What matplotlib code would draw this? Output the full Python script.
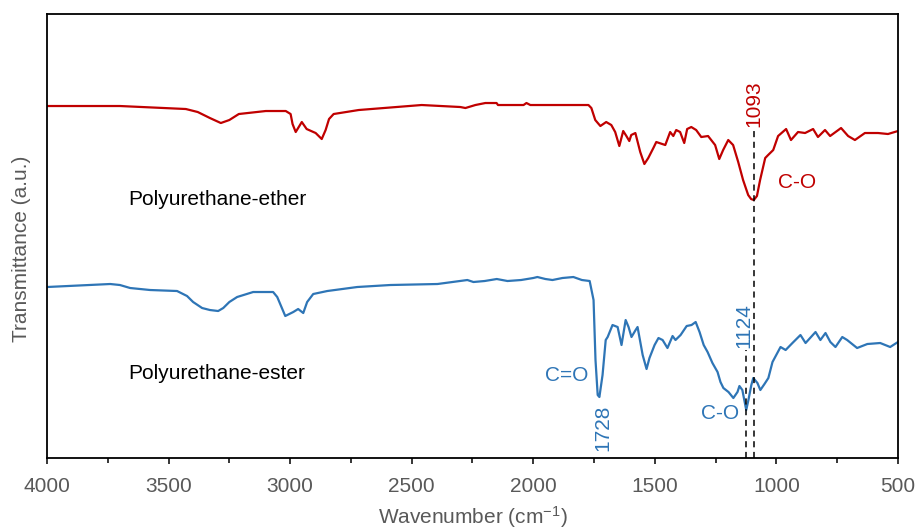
import matplotlib
matplotlib.use('Agg')
import matplotlib.pyplot as plt
from matplotlib.ticker import MultipleLocator

plt.rcParams['font.family'] = ['Liberation Sans', 'DejaVu Sans']
plt.rcParams['mathtext.default'] = 'regular'

# espectro del poliuretano-eter (numero de onda, transmitancia a.u.)
ether_wn = [4000, 3700, 3429, 3380, 3330, 3285, 3250, 3211, 3100, 3018, 2998, 2990,
            2977, 2952, 2932, 2895, 2870, 2854, 2840, 2821, 2718, 2459, 2300, 2279,
            2238, 2197, 2151, 2145, 2040, 2028, 2012, 1897, 1773, 1761, 1745, 1724,
            1700, 1679, 1663, 1646, 1630, 1617, 1605, 1597, 1580, 1560, 1543, 1527,
            1506, 1494, 1457, 1437, 1424, 1412, 1396, 1379, 1367, 1350, 1330, 1309,
            1281, 1252, 1235, 1219, 1198, 1178, 1157, 1137, 1116, 1104, 1093, 1080,
            1067, 1046, 1034, 1013, 993, 960, 940, 911, 882, 849, 829, 800, 779, 734,
            705, 677, 636, 582, 541, 500]
ether_t = [352, 352, 349, 346, 340, 335, 338, 344, 347, 347, 344, 334,
           326, 336, 329, 325, 319, 328, 339, 344, 348, 353, 351, 350,
           353, 355, 355, 353, 353, 355, 353, 353, 353, 350, 338, 332,
           336, 333, 326, 312, 327, 322, 317, 323, 325, 306, 294, 300,
           310, 316, 313, 326, 322, 328, 326, 315, 329, 331, 328, 321,
           322, 313, 299, 308, 318, 313, 296, 278, 263, 259, 258, 262,
           278, 300, 303, 308, 322, 329, 318, 326, 325, 329, 321, 328, 322, 330,
           322, 318, 325, 325, 324, 327]

# espectro del poliuretano-ester
ester_wn = [4000, 3740, 3700, 3658, 3576, 3465, 3424, 3399, 3362, 3330, 3296, 3275,
            3250, 3218, 3152, 3070, 3053, 3020, 2987, 2967, 2946, 2930, 2905, 2847, 2724,
            2588, 2394, 2271, 2246, 2200, 2150, 2106, 2050, 2000, 1983, 1950, 1921,
            1880, 1835, 1800, 1768, 1752, 1744, 1735, 1728, 1715, 1702, 1694, 1674,
            1653, 1637, 1620, 1608, 1596, 1579, 1571, 1550, 1534, 1522, 1501, 1485,
            1468, 1448, 1427, 1415, 1394, 1369, 1349, 1332, 1316, 1299, 1283, 1263,
            1242, 1230, 1218, 1197, 1177, 1160, 1152, 1140, 1124, 1115, 1103, 1095,
            1078, 1066, 1049, 1033, 1016, 983, 962, 934, 901, 880, 839, 819, 798,
            778, 757, 729, 709, 668, 626, 573, 532, 500]
ester_t = [171, 174, 173, 170, 168, 167, 162, 156, 150, 148, 147, 150,
           156, 161, 166, 166, 161, 142, 146, 149, 145, 156, 164, 167, 171,
           173, 174, 178, 176, 177, 179, 177, 178, 180, 181, 179, 178,
           180, 181, 178, 177, 158, 98, 63, 61, 83, 118, 121, 133,
           131, 113, 138, 131, 121, 128, 131, 103, 89, 100, 113, 120,
           118, 110, 122, 118, 123, 132, 133, 136, 126, 113, 106, 95,
           86, 76, 70, 66, 60, 66, 72, 68, 48, 58, 73, 80,
           75, 68, 74, 80, 96, 111, 108, 115, 123, 115, 126, 118, 125,
           116, 111, 121, 118, 110, 114, 115, 111, 116]

red = '#C00000'
blue = '#2E75B6'
gray = '#595959'
fs = 15

fig = plt.figure(figsize=(9.16, 5.29), dpi=100)
ax = fig.add_axes([0.0513, 0.1342, 0.929, 0.8393])

ax.plot(ether_wn, ether_t, color=red, lw=1.6)
ax.plot(ester_wn, ester_t, color=blue, lw=1.6)

# lineas discontinuas en los picos C-O
ax.plot([1093, 1093], [0, 330], color='black', lw=1.1, ls=(0, (4, 3)))
ax.plot([1124, 1124], [0, 108], color='black', lw=1.1, ls=(0, (4, 3)))

ax.set_xlim(4000, 500)
ax.set_ylim(0, 444)
ax.xaxis.set_major_locator(MultipleLocator(500))
ax.xaxis.set_minor_locator(MultipleLocator(250))
ax.tick_params(axis='x', which='major', direction='out', length=4.5, width=1.1,
               labelsize=fs, labelcolor=gray, pad=9)
ax.tick_params(axis='x', which='minor', direction='out', length=3.8, width=1.1)
ax.set_yticks([])
for s in ax.spines.values():
    s.set_linewidth(1.3)

ax.set_xlabel('Wavenumber (cm$^{-1}$)', fontsize=fs, color=gray, labelpad=6)
ax.set_ylabel('Transmittance (a.u.)', fontsize=fs, color=gray)
ax.yaxis.set_label_coords(-0.019, 0.471)

# etiquetas
ax.text(3666, 259, 'Polyurethane-ether', fontsize=fs, va='center')
ax.text(3666, 85, 'Polyurethane-ester', fontsize=fs, va='center')
ax.text(1093, 354, '1093', color=red, fontsize=fs, rotation=90, ha='center', va='center')
ax.text(994, 276, 'C-O', color=red, fontsize=fs, va='center')
ax.text(1772, 83, 'C=O', color=blue, fontsize=fs, ha='right', va='center')
ax.text(1714, 30, '1728', color=blue, fontsize=fs, rotation=90, ha='center', va='center')
ax.text(1154, 45, 'C-O', color=blue, fontsize=fs, ha='right', va='center')
ax.text(1134, 132, '1124', color=blue, fontsize=fs, rotation=90, ha='center', va='center')

fig.savefig('out.png', dpi=100)
